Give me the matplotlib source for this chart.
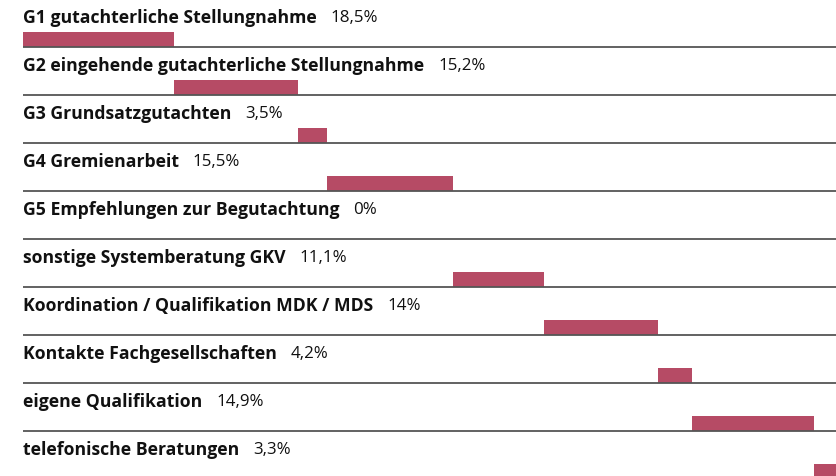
import matplotlib
matplotlib.use("Agg")
import matplotlib.pyplot as plt

categories = [
    "G1 gutachterliche Stellungnahme",
    "G2 eingehende gutachterliche Stellungnahme",
    "G3 Grundsatzgutachten",
    "G4 Gremienarbeit",
    "G5 Empfehlungen zur Begutachtung",
    "sonstige Systemberatung GKV",
    "Koordination / Qualifikation MDK / MDS",
    "Kontakte Fachgesellschaften",
    "eigene Qualifikation",
    "telefonische Beratungen",
]
values = [18.5, 15.2, 3.5, 15.5, 0, 11.1, 14, 4.2, 14.9, 3.3]
value_labels = ["18,5%", "15,2%", "3,5%", "15,5%", "0%", "11,1%", "14%", "4,2%", "14,9%", "3,3%"]

W, H = 837, 476
fig = plt.figure(figsize=(W / 100, H / 100), dpi=100)
ax = fig.add_axes([0, 0, 1, 1])
px_per_pct = 8.16
x0 = -23 / px_per_pct
ax.set_xlim(x0, x0 + W / px_per_pct)
ax.set_ylim(H, 0)
ax.axis("off")

pitch = 48
first_line = 47
bar_h = 15
color = "#B64B65"
left = 0.0
for i, (cat, v, lab) in enumerate(zip(categories, values, value_labels)):
    base = first_line + pitch * i
    ax.barh(base - bar_h / 2, v, left=left, height=bar_h, color=color, zorder=2)
    ax.plot([0, x0 + W / px_per_pct], [base, base], color="#555555", lw=1.3, zorder=3,
            solid_capstyle="butt")
    t = ax.text(0, base - 29, cat, fontsize=12.7, fontweight="bold", family="Open Sans",
                color="#111111", va="center", ha="left")
    ax.annotate(lab, xy=(1, 0.5), xycoords=t, xytext=(10, 0), textcoords="offset points",
                fontsize=12.2, family="Open Sans", color="#111111", va="center", ha="left")
    left += v

fig.savefig("out.png", dpi=100)
